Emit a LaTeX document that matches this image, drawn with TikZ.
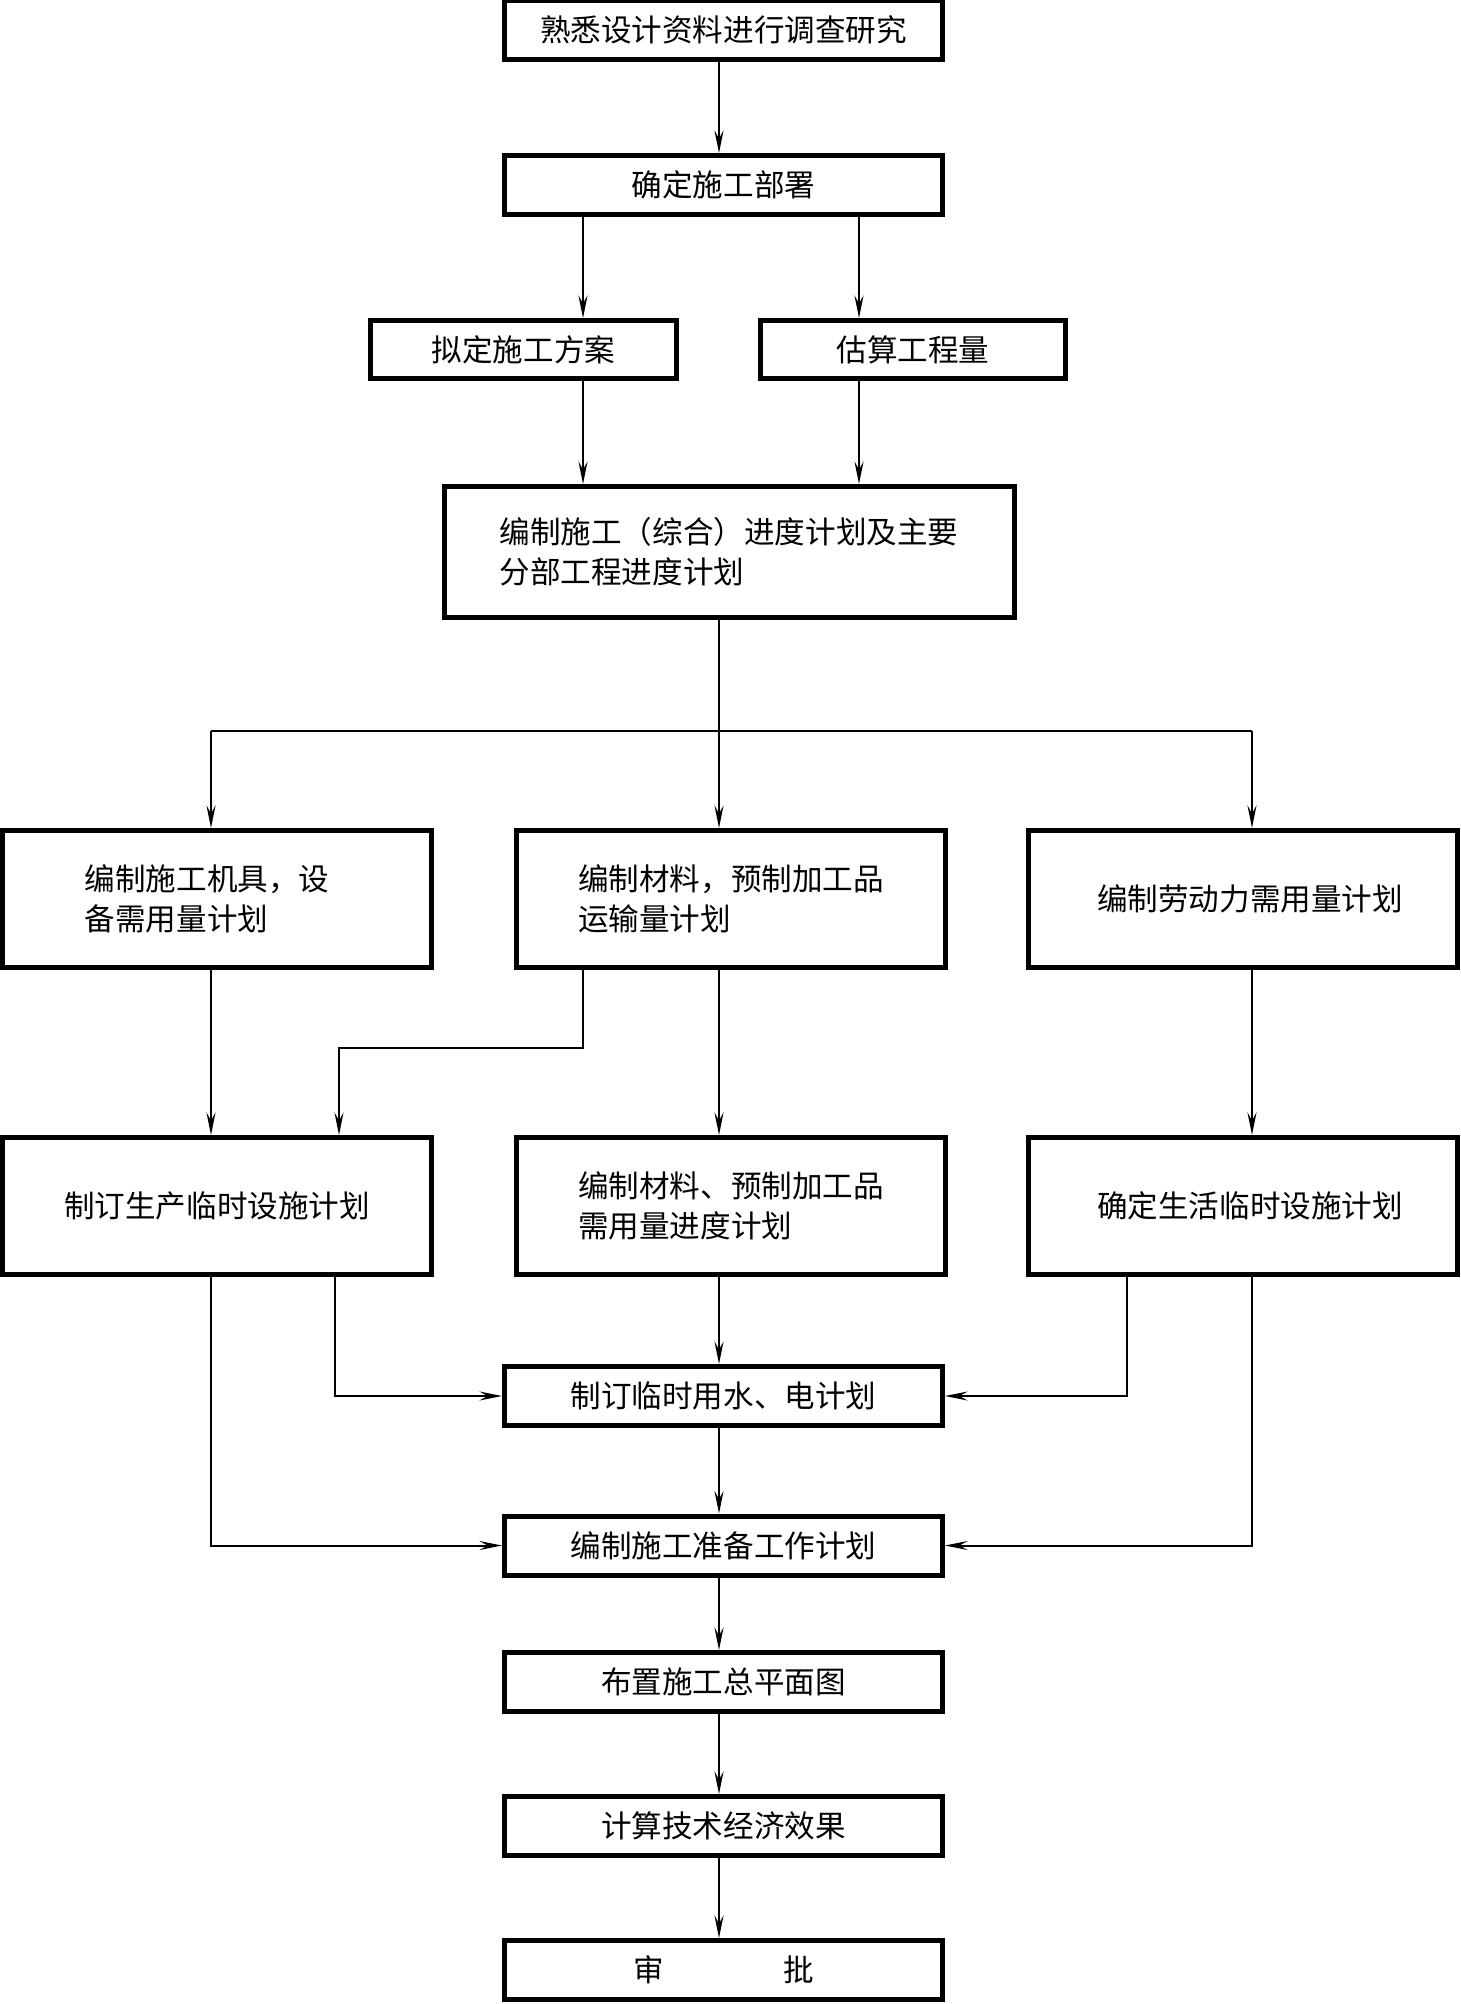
\documentclass[tikz,border=0pt]{standalone}
\usepackage{fontspec}
\usetikzlibrary{arrows.meta}
\newfontfamily\cjk{Noto Sans CJK SC}
\tikzset{
  box/.style={draw, line width=1mm, inner sep=0pt, align=left,
    font=\cjk\fontsize{17.4}{22.7}\selectfont},
  onebox/.style={box, minimum width=87.6mm, minimum height=11.8mm},
  rowbox/.style={box, minimum width=85.8mm, minimum height=27.4mm},
  conn/.style={-{Stealth[length=4.5mm, width=1.8mm, inset=1.6mm]}, line width=0.4mm},
  wire/.style={line width=0.4mm}
}
\begin{document}
\begin{tikzpicture}[x=0.2mm, y=-0.2mm]
\useasboundingbox (0,0) rectangle (1461,2004);
% boxes
\node[onebox] (survey) at (723.5,30) {熟悉设计资料进行调查研究};
\node[onebox] (deploy) at (723.5,185) {确定施工部署};
\node[box, minimum width=61.2mm, minimum height=11.6mm] (scheme) at (523.5,349.5) {拟定施工方案};
\node[box, minimum width=61mm, minimum height=11.6mm] (qty) at (913,349.5) {估算工程量};
\node[box, minimum width=114mm, minimum height=26.2mm] (sched) at (729,552) {编制施工（综合）进度计划及主要\\分部工程进度计划};
\node[rowbox] (mach) at (217,899) {编制施工机具，设\hspace*{4mm}\\备需用量计划};
\node[rowbox] (mat) at (731,899) {编制材料，预制加工品\\运输量计划};
\node[rowbox] (labour) at (1242.5,899) {\hspace{3mm}编制劳动力需用量计划};
\node[rowbox] (prodfac) at (217,1206) {制订生产临时设施计划};
\node[rowbox] (matsched) at (731,1206) {编制材料、预制加工品\\需用量进度计划};
\node[rowbox] (lifefac) at (1242.5,1206) {\hspace{3mm}确定生活临时设施计划};
\node[onebox] (water) at (723.5,1396) {制订临时用水、电计划};
\node[onebox] (prep) at (723.5,1545.5) {编制施工准备工作计划};
\node[onebox] (layout) at (723.5,1682) {布置施工总平面图};
\node[onebox] (econ) at (723.5,1826) {计算技术经济效果};
\node[onebox] (approve) at (723.5,1970) {审\hspace{3.9em}批};
% junctions
\coordinate (split) at (719,731);
\coordinate (jL) at (211,731);
\coordinate (jR) at (1252,731);
\coordinate (colA) at (583,0);
\coordinate (colB) at (859,0);
\coordinate (bend) at (339,1048);
\coordinate (colD) at (335,0);
\coordinate (colE) at (1127,0);
% connectors
\draw[conn] (survey.south -| split) -- (deploy.north -| split);
\draw[conn] (deploy.south -| colA) -- (scheme.north -| colA);
\draw[conn] (deploy.south -| colB) -- (qty.north -| colB);
\draw[conn] (scheme.south -| colA) -- (sched.north -| colA);
\draw[conn] (qty.south -| colB) -- (sched.north -| colB);
\draw[wire] (sched.south -| split) -- (split);
\draw[wire] (jL) -- (jR);
\draw[conn] (jL) -- (jL |- mach.north);
\draw[conn] (split) -- (split |- mat.north);
\draw[conn] (jR) -- (jR |- labour.north);
\draw[conn] (mach.south -| jL) -- (prodfac.north -| jL);
\draw[conn] (mat.south -| split) -- (matsched.north -| split);
\draw[conn] (labour.south -| jR) -- (lifefac.north -| jR);
\draw[conn] (mat.south -| colA) |- (bend) -- (bend |- prodfac.north);
\draw[conn] (prodfac.south -| colD) |- (water.west);
\draw[conn] (matsched.south -| split) -- (water.north -| split);
\draw[conn] (lifefac.south -| colE) |- (water.east);
\draw[conn] (prodfac.south -| jL) |- (prep.west);
\draw[conn] (lifefac.south -| jR) |- (prep.east);
\draw[conn] (water.south -| split) -- (prep.north -| split);
\draw[conn] (prep.south -| split) -- (layout.north -| split);
\draw[conn] (layout.south -| split) -- (econ.north -| split);
\draw[conn] (econ.south -| split) -- (approve.north -| split);
\end{tikzpicture}
\end{document}
